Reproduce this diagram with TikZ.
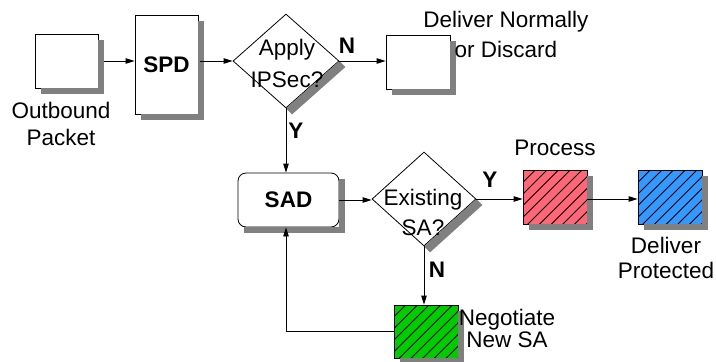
\documentclass[tikz,border=0pt]{standalone}
\usepackage{fontspec}
\setmainfont{Liberation Sans}
\usetikzlibrary{shapes.geometric,arrows.meta}

\definecolor{shgray}{HTML}{808080}
\definecolor{procred}{HTML}{FF6677}
\definecolor{protblue}{HTML}{3399FF}
\definecolor{neggreen}{HTML}{00CC00}

\tikzset{
  every node/.style={font=\fontsize{22.5}{26}\selectfont},
  plainbox/.style={draw, line width=0.8pt, fill=white, inner sep=0pt},
  decision/.style={diamond, draw, line width=0.8pt, fill=white, inner sep=0pt},
  hatched/.style={draw, line width=0.8pt, inner sep=0pt, fill=#1,
    path picture={
      \foreach \k in {-6,...,6}
        \draw[line width=0.9pt, black]
          ([shift={(\k*11.7pt-40pt,-40pt)}]path picture bounding box.center) -- ++(80pt,80pt);
    }},
  shadowfill/.style={fill=shgray},
  sh/.style={shift={(6pt,-6pt)}},
  arr/.style={line width=0.8pt, -{Triangle[length=9pt,width=5.5pt]}},
  lbl/.style={inner sep=0pt, align=center, anchor=base},
  yn/.style={inner sep=0pt, font=\fontsize{22.5}{26}\selectfont\bfseries}
}

% drop shadow along the right and bottom sides of a box node
\newcommand\boxshadow[1]{%
  \fill[shadowfill] ([xshift=6pt]#1.east |- [yshift=-6pt]#1.north) rectangle ([sh]#1.south east);
  \fill[shadowfill] ([yshift=-6pt]#1.south -| [xshift=6pt]#1.west) rectangle ([sh]#1.south east);}
% drop shadow along the lower right edge of a diamond node
\newcommand\diamondshadow[1]{%
  \fill[shadowfill] (#1.east) -- ([sh]#1.east) -- ([sh]#1.south) -- (#1.south) -- cycle;}

\begin{document}
\begin{tikzpicture}[x=1pt,y=-1pt]
\useasboundingbox (0,0) rectangle (716,362);

% main flow boxes
\node[plainbox, minimum width=63pt, minimum height=54pt] (out) at (66.5,61) {};
\node[plainbox, minimum width=63pt, minimum height=99pt, font=\fontsize{22.5}{26}\selectfont\bfseries] (spd) at (166.5,64.5) {SPD};
\node[decision, minimum width=106pt, minimum height=94pt] (apply) at (286,61) {};
\node[plainbox, minimum width=64pt, minimum height=54pt] (deliv) at (418,62) {};

\node[plainbox, rounded corners=8pt, minimum width=101pt, minimum height=54pt, font=\fontsize{22.5}{26}\selectfont\bfseries] (sad) at (288.5,200) {SAD};
\node[decision, minimum width=104pt, minimum height=94pt] (exist) at (424,199) {};

\node[hatched=procred, minimum width=64pt, minimum height=54pt] (proc) at (555,197) {};
\node[hatched=protblue, minimum width=64pt, minimum height=54pt] (dprot) at (670,197) {};
\node[hatched=neggreen, minimum width=64pt, minimum height=53pt] (neg) at (426,331.5) {};

% drop shadows
\fill[shadowfill] (98.4,40) rectangle (104,94);
\fill[shadowfill] (41,88.4) rectangle (104,94);
\fill[shadowfill] (198.4,21) rectangle (204,120);
\fill[shadowfill] (141,114.4) rectangle (204,120);
\fill[shadowfill] (450.4,41) rectangle (456,95);
\fill[shadowfill] (392,89.4) rectangle (456,95);
\fill[shadowfill] (339.4,179) rectangle (345,233);
\fill[shadowfill] (244,227.4) rectangle (345,233);
\fill[shadowfill] (587.4,176) rectangle (593,230);
\fill[shadowfill] (529,224.4) rectangle (593,230);
\fill[shadowfill] (702.4,176) rectangle (708,230);
\fill[shadowfill] (644,224.4) rectangle (708,230);
\fill[shadowfill] (458.4,311) rectangle (464,364);
\fill[shadowfill] (400,358.4) rectangle (464,364);
\diamondshadow{apply}
\diamondshadow{exist}

% texts inside the decisions
\node[inner sep=0pt, align=center, font=\fontsize{22.5}{32}\selectfont] (applytxt) at (287,63) {Apply\\IPSec?};
\node[inner sep=0pt, align=center, font=\fontsize{22.5}{30}\selectfont] (existtxt) at (423,212) {Existing\\SA?};

% captions (anchored at the baseline of their last line)
\node[lbl, font=\fontsize{22.5}{27}\selectfont] (outtxt) at (61,145) {Outbound\\Packet};
\node[lbl, font=\fontsize{22.5}{30}\selectfont] (delivtxt) at (506,57) {Deliver Normally\\or Discard};
\node[lbl] (proctxt) at (555,155) {Process};
\node[lbl, font=\fontsize{22.5}{25}\selectfont] (dprottxt) at (666,278) {Deliver\\Protected};
\node[lbl, font=\fontsize{22.5}{22}\selectfont] (negtxt) at (507,347) {Negotiate\\New SA};

% connectors
\draw[arr] ([xshift=6pt]out.east) -- (spd.west |- out.east);
\draw[arr] ([xshift=2pt]spd.east |- apply.west) -- (apply.west);
\draw[arr] (apply.east) -- (deliv.west |- apply.east);
\draw[arr] (apply.south) -- (apply.south |- sad.north);
\draw[arr] (sad.east) -- (exist.west |- sad.east);
\draw[arr] (exist.east) -- (exist.east -| proc.west);
\draw[arr] (proc.east |- exist.east) -- (dprot.west |- exist.east);
\draw[arr] (exist.south) -- (exist.south |- neg.north);
\draw[arr] (neg.west) -| (apply.south |- sad.south);

% branch labels
\node[yn] (n1) at (347,46) {N};
\node[yn] (y1) at (296,131) {Y};
\node[yn] (y2) at (490,180) {Y};
\node[yn] (n2) at (437,270) {N};
\end{tikzpicture}
\end{document}
